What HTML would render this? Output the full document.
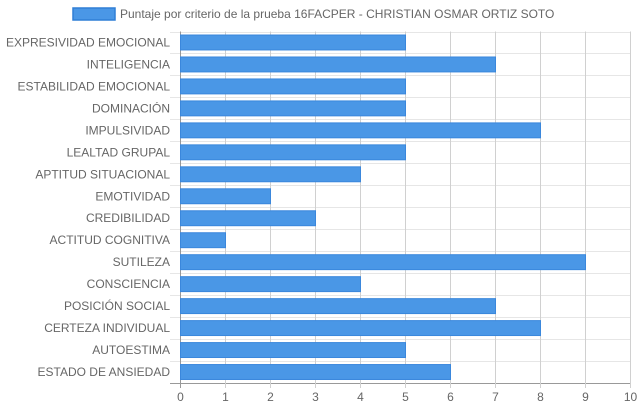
<!DOCTYPE html>
<html><head><meta charset="utf-8"><style>
body{margin:0;background:#fff;font-family:"Liberation Sans",sans-serif}
svg text{font-family:"Liberation Sans",sans-serif;fill:#666;font-size:12px}
</style></head><body>
<svg id="c" width="639" height="411">
<rect x="73" y="8" width="42" height="12" fill="#4a97e6" stroke="#2f7fd6" stroke-width="1.5"/>
<text x="120" y="18">Puntaje por criterio de la prueba 16FACPER - CHRISTIAN OSMAR ORTIZ SOTO</text>
<g id="grid"></g><g id="bars"></g><g id="labels"></g>
</svg>
<script>
const categories=["EXPRESIVIDAD EMOCIONAL","INTELIGENCIA","ESTABILIDAD EMOCIONAL","DOMINACIÓN","IMPULSIVIDAD","LEALTAD GRUPAL","APTITUD SITUACIONAL","EMOTIVIDAD","CREDIBILIDAD","ACTITUD COGNITIVA","SUTILEZA","CONSCIENCIA","POSICIÓN SOCIAL","CERTEZA INDIVIDUAL","AUTOESTIMA","ESTADO DE ANSIEDAD"];
const values=[5,7,5,5,8,5,4,2,3,1,9,4,7,8,5,6];
const ticks=[0,1,2,3,4,5,6,7,8,9,10];
const NS="http://www.w3.org/2000/svg";
const x0=180.5,x1=630.5,ptop=31.5,pbot=383,band=(pbot-ptop)/categories.length;
const xs=v=>x0+(x1-x0)*v/10;
const yc=i=>ptop+band*(i+0.5);
function mk(t,a,p){const e=document.createElementNS(NS,t);for(const k in a)e.setAttribute(k,a[k]);document.getElementById(p).appendChild(e);return e;}
for(let i=0;i<=categories.length;i++){
 const y=Math.round(ptop+band*i)+0.5;
 const l=mk('line',{x1:170,x2:x1,y1:y,y2:y,stroke:i==categories.length?'#999':'#e6e6e6'},'grid');
 
 
}
ticks.forEach(t=>{
 const x=xs(t);
 const l=mk('line',{x1:x,x2:x,y1:ptop,y2:pbot+5,stroke:t==0?'#999':'#d0d0d0'},'grid');
 
 
 const tx=mk('text',{x:x,y:401,'text-anchor':'middle'},'labels');tx.textContent=t;
 
 
});
categories.forEach((c,i)=>{
 const h=band*0.68;
 const r=mk('rect',{x:x0,y:yc(i)-h/2,width:xs(values[i])-x0,height:h,fill:'#4a97e6',stroke:'#3a87dc','stroke-width':1},'bars');
 
 
 const t=mk('text',{x:170,y:yc(i)+4,'text-anchor':'end'},'labels');t.textContent=c;
 
 
});
</script>
</body></html>
